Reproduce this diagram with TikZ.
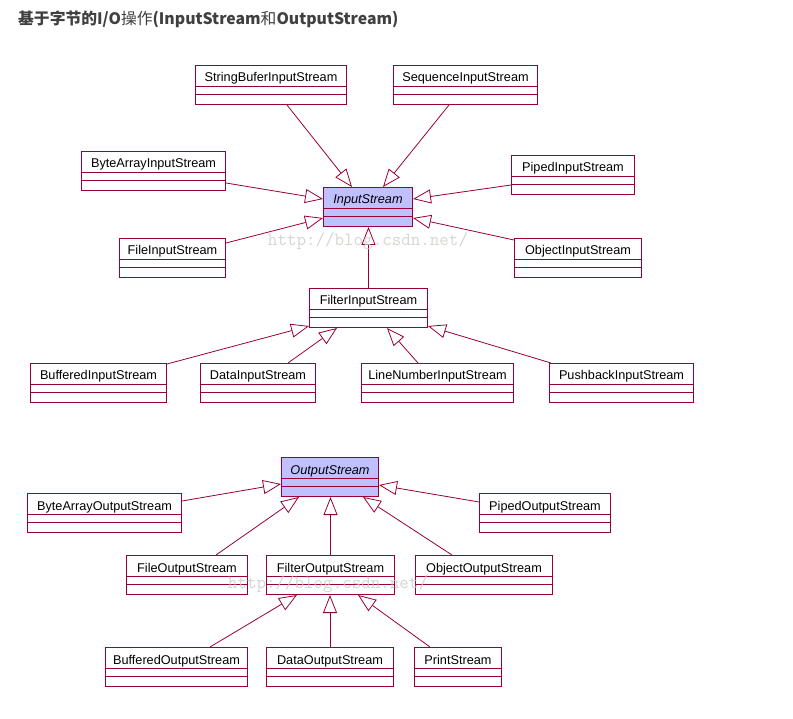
\documentclass[tikz,border=0pt]{standalone}
\usepackage{fontspec}
\setmainfont{Liberation Sans}
\newfontfamily\cjkfont{Noto Sans CJK SC}
\usetikzlibrary{arrows.meta}
\definecolor{umlline}{RGB}{153,0,51}
\definecolor{umlfill}{RGB}{192,192,255}
\definecolor{titlegray}{RGB}{64,64,64}
\definecolor{markgray}{RGB}{205,203,198}

\tikzset{
    cls/.style={draw=umlline, line width=1pt, fill=white, anchor=north west, inner sep=0pt,
        text height=16.5pt, text depth=22.5pt, font=\fontsize{12.7}{14}\selectfont},
    abstractcls/.style={cls, fill=umlfill, font=\fontsize{12.7}{14}\selectfont\itshape},
    gen/.style={draw=umlline, line width=0.8pt, -{Triangle[open, length=18pt, width=14pt]}},
    divider/.style={draw=umlline, line width=0.8pt},
    watermark/.style={text=markgray, text opacity=0.8, inner sep=0pt, font=\ttfamily\fontsize{18.5}{20}\selectfont},
}

\begin{document}
\begin{tikzpicture}[x=1pt, y=-1pt]
    \useasboundingbox[fill=white] (0,0) rectangle (793,719);

    % Title
    \node[anchor=west, text=titlegray, inner sep=0pt, font=\cjkfont\bfseries\fontsize{15.8}{18}\selectfont] (title) at (18,19)
        {基于字节的I/O{\mdseries 操作}(InputStream{\mdseries 和}OutputStream)};

    % Abstract base classes
    \node[abstractcls, minimum width=89pt] (is) at (323,187) {InputStream};
    \node[abstractcls, minimum width=97pt] (os) at (281,457) {OutputStream};

    % Concrete classes: name/left/top/width/label
    \foreach \n/\x/\y/\w/\t in {
        sbis/195/65/151/StringBuferInputStream, seqis/393/65/144/SequenceInputStream,
        bais/81/151/144/ByteArrayInputStream, pis/511/155/123/PipedInputStream,
        fis/119/238/106/FileInputStream, ois/514/238/127/ObjectInputStream,
        filis/309/288/118/FilterInputStream,
        bis/30/363/136/BufferedInputStream, dis/200/363/115/DataInputStream,
        lnis/361/363/152/LineNumberInputStream, pbis/549/363/144/PushbackInputStream,
        baos/27/493/154/ByteArrayOutputStream, pos/479/493/131/PipedOutputStream,
        fos/126/555/121/FileOutputStream, filos/266/555/128/FilterOutputStream,
        oos/415/555/137/ObjectOutputStream,
        bos/105/647/142/BufferedOutputStream, dos/266/647/127/DataOutputStream,
        ps/414/647/87/PrintStream} {
        \node[cls, minimum width=\w pt] (\n) at (\x,\y) {\t};
    }

    % Compartment lines
    \foreach \n in {is,os,sbis,seqis,bais,pis,fis,ois,filis,bis,dis,lnis,pbis,
        baos,pos,fos,filos,oos,bos,dos,ps} {
        \draw[divider] ([yshift=-21pt]\n.north west) -- ([yshift=-21pt]\n.north east);
        \draw[divider] ([yshift=-29.5pt]\n.north west) -- ([yshift=-29.5pt]\n.north east);
    }

    % InputStream hierarchy
    \draw[gen] ([xshift=92pt]sbis.south west) -- ([xshift=29pt]is.north west);
    \draw[gen] ([xshift=56pt]seqis.south west) -- ([xshift=60pt]is.north west);
    \draw[gen] ([yshift=8pt]bais.south east) -- ([yshift=-12pt]is.north west);
    \draw[gen] ([yshift=-5pt]fis.north east) -- ([yshift=9pt]is.south west);
    \draw[gen] ([yshift=10pt]pis.south west) -- ([yshift=-12pt]is.north east);
    \draw[gen] ([yshift=-2pt]ois.north west) -- ([yshift=9pt]is.south east);
    \draw[gen] (filis.north) -- (filis.north |- is.south);

    % FilterInputStream subclasses
    \draw[gen] ([yshift=-1pt]bis.north east) -- ([yshift=2pt]filis.south west);
    \draw[gen] ([xshift=88pt]dis.north west) -- ([xshift=28pt]filis.south west);
    \draw[gen] ([xshift=57pt]lnis.north west) -- ([xshift=78pt]filis.south west);
    \draw[gen] ([xshift=2pt]pbis.north west) -- ([yshift=2pt]filis.south east);

    % OutputStream hierarchy
    \draw[gen] ([yshift=-8pt]baos.north east) -- ([yshift=-27pt]os.north west);
    \draw[gen] ([yshift=-9pt]pos.north west) -- ([yshift=-28pt]os.north east);
    \draw[gen] ([xshift=90pt]fos.north west) -- ([xshift=18pt]os.south west);
    \draw[gen] (filos.north) -- (filos.north |- os.south);
    \draw[gen] ([xshift=37pt]oos.north west) -- ([xshift=-16pt]os.south east);

    % FilterOutputStream subclasses
    \draw[gen] ([xshift=105pt]bos.north west) -- ([xshift=31pt]filos.south west);
    \draw[gen] (dos.north) -- (dos.north |- filos.south);
    \draw[gen] ([xshift=16pt]ps.north west) -- ([xshift=92pt]filos.south west);

    % Watermarks
    \node[watermark] (mark1) at (368,241) {http://blog.csdn.net/};
    \node[watermark] (mark2) at (328,584) {http://blog.csdn.net/};
\end{tikzpicture}
\end{document}
